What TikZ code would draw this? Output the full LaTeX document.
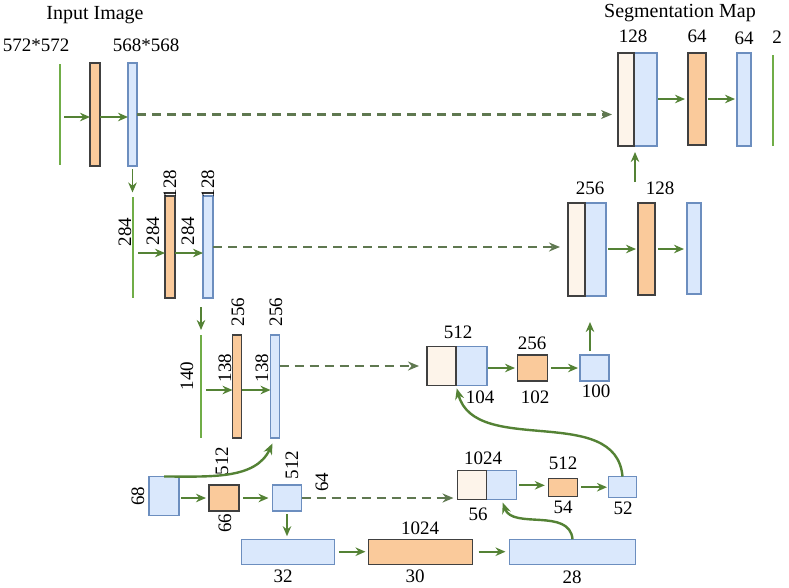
\documentclass[tikz,border=0pt]{standalone}
\usepackage{fontspec}
\setmainfont{Liberation Serif}
\usepackage{pgf,tikz}
\usetikzlibrary{arrows.meta}

\definecolor{lgreen}{RGB}{112,173,71}
\definecolor{dgreen}{RGB}{84,130,53}
\definecolor{sgreen}{RGB}{95,120,80}
\definecolor{ofill}{RGB}{250,202,155}
\definecolor{bfill}{RGB}{218,232,252}
\definecolor{bline}{RGB}{108,142,191}
\definecolor{cfill}{RGB}{253,244,234}
\definecolor{kline}{RGB}{64,64,64}

\tikzset{
  conv/.style={draw=kline, fill=ofill, line width=1.2pt, inner sep=0pt, outer sep=0pt},
  feat/.style={draw=bline, fill=bfill, line width=1.2pt, inner sep=0pt, outer sep=0pt},
  copyd/.style={draw=kline, fill=cfill, line width=1.2pt, inner sep=0pt, outer sep=0pt},
  inmap/.style={fill=lgreen, inner sep=0pt, outer sep=0pt, minimum width=2pt},
  lbl/.style={font=\fontsize{19}{22}\selectfont, inner sep=0pt},
  ttl/.style={font=\fontsize{20}{24}\selectfont, inner sep=0pt},
  flow/.style={dgreen, line width=1.8pt, -{Stealth[length=10pt,width=8.5pt]}},
  skipc/.style={sgreen, line width=2.6pt, dash pattern=on 9pt off 6pt, -{Stealth[length=11pt,width=9pt]}},
  curvearr/.style={dgreen, line width=2.4pt, -{Stealth[length=11pt,width=9pt]}},
}

\begin{document}
\begin{tikzpicture}[x=1pt,y=-1pt]
\useasboundingbox (0,0) rectangle (789,587);
  %----row 1----%
  \draw (60,114.5) node[inmap, minimum height=101pt] (in1) {}; %572
  \draw (95,114.5) node[conv, minimum width=10pt, minimum height=103pt] (c1a) {};
  \draw (132.5,114.5) node[feat, minimum width=9pt, minimum height=103pt] (c1b) {}; %568
  \draw (95,15) node[ttl] (tin) {Input Image};
  \draw (36,45) node[lbl] (s1) {572*572};
  \draw (146,45) node[lbl] (s2) {568*568};
  \draw[flow, shorten <=3pt] ([yshift=-2.5pt]in1.east) -- ([yshift=-2.5pt]c1a.west);
  \draw[flow] ([yshift=-2.5pt]c1a.east) -- ([yshift=-2.5pt]c1b.west);
  %----row 2----%
  \draw (133,247) node[inmap, minimum height=101pt] (in2) {};
  \draw (170,247) node[conv, minimum width=10pt, minimum height=102pt] (c2a) {};
  \draw (208,247) node[feat, minimum width=10pt, minimum height=102pt] (c2b) {};
  \draw (125,232) node[lbl, rotate=90] (n2i) {284};
  \draw (153,231) node[lbl, rotate=90] (n2a) {284};
  \draw (188,231) node[lbl, rotate=90] (n2b) {284};
  \draw (170,184) node[lbl, rotate=90] (d2a) {128};
  \draw (208,184) node[lbl, rotate=90] (d2b) {128};
  \draw[flow, shorten <=3pt, shorten >=4pt] (c1b.south) -- (c1b.south |- in2.north);
  \draw[flow, shorten <=4pt] ([yshift=-6pt]in2.east) -- ([yshift=-6pt]c2a.west);
  \draw[flow] ([yshift=-6pt]c2a.east) -- ([yshift=-6pt]c2b.west);
  %----row 3----%
  \draw (201,386.5) node[inmap, minimum height=103pt] (in3) {};
  \draw (237,386.5) node[conv, minimum width=9pt, minimum height=103pt] (c3a) {};
  \draw (275,386.5) node[feat, minimum width=9pt, minimum height=103pt] (c3b) {};
  \draw (187,376) node[lbl, rotate=90] (n3i) {140};
  \draw (225,368) node[lbl, rotate=90] (n3a) {138};
  \draw (262,368) node[lbl, rotate=90] (n3b) {138};
  \draw (238,312) node[lbl, rotate=90] (d3a) {256};
  \draw (276,312) node[lbl, rotate=90] (d3b) {256};
  \draw[flow, shorten <=9pt, shorten >=5pt] (in3.north |- c2b.south) -- (in3.north);
  \draw[flow, shorten <=4pt] ([yshift=-3.5pt]in3.east) -- ([yshift=-3.5pt]c3a.west);
  \draw[flow] ([yshift=-3.5pt]c3a.east) -- ([yshift=-3.5pt]c3b.west);
  %----row 4----%
  \draw (164,496) node[feat, minimum width=30pt, minimum height=39pt] (c4in) {};
  \draw (224,498) node[conv, minimum width=30pt, minimum height=26pt] (c4a) {};
  \draw (287,498) node[feat, minimum width=29pt, minimum height=26pt] (c4b) {};
  \draw (138,496) node[lbl, rotate=90] (n4i) {68};
  \draw (222,461) node[lbl, rotate=90] (d4a) {512};
  \draw (225,523) node[lbl, rotate=90] (n4a) {66};
  \draw (292,465) node[lbl, rotate=90] (d4b) {512};
  \draw (322,482) node[lbl, rotate=90] (n4b) {64};
  \draw[flow, shorten <=2pt, shorten >=3pt] (c4in.east |- c4a.west) -- (c4a.west);
  \draw[flow, shorten <=4pt, shorten >=4pt] (c4a.east) -- (c4b.west);
  \draw[curvearr, shorten >=6pt] (c4in.north) to[out=0,in=-115] (c3b.south);
  %----bottom----%
  \draw (288.3,551.7) node[feat, minimum width=93pt, minimum height=25pt] (c5in) {};
  \draw (420.5,551.7) node[conv, minimum width=104pt, minimum height=25pt] (c5a) {};
  \draw (572.5,551.7) node[feat, minimum width=126pt, minimum height=25pt] (c5b) {};
  \draw (283,576) node[lbl] (n5i) {32};
  \draw (420,528) node[lbl] (d5a) {1024};
  \draw (415,576) node[lbl] (n5a) {30};
  \draw (572,577) node[lbl] (n5b) {28};
  \draw[flow, shorten <=3pt, shorten >=3pt] (c4b.south) -- (c4b.south |- c5in.north);
  \draw[flow, shorten <=4pt, shorten >=3pt] (c5in.east) -- (c5a.west);
  \draw[flow, shorten <=6pt, shorten >=4pt] (c5a.east) -- (c5b.west);
  %----up 4----%
  \draw (501.7,485.3) node[feat, minimum width=30pt, minimum height=29pt] (cat4b) {};
  \draw (472,485.3) node[copyd, minimum width=29pt, minimum height=29pt] (cat4a) {};
  \draw (562.8,487.2) node[conv, minimum width=29pt, minimum height=18pt] (u4a) {};
  \draw (622.5,487) node[feat, minimum width=28pt, minimum height=21pt] (u4b) {};
  \draw (483,458) node[lbl] (d4c) {1024};
  \draw (478,514) node[lbl] (n4c) {56};
  \draw (563,463) node[lbl] (d4u) {512};
  \draw (563,507) node[lbl] (n4u) {54};
  \draw (623,508) node[lbl] (n4o) {52};
  \draw[skipc, shorten >=4pt] (c4b.east) -- (c4b.east -| cat4a.west);
  \draw[curvearr, shorten >=3pt] (c5b.north) to[out=95,in=-70] (cat4b.south);
  \draw[flow, shorten <=2.5pt, shorten >=3.5pt] (cat4b.east) -- (cat4b.east -| u4a.west);
  \draw[flow, shorten <=4pt, shorten >=1.5pt] (u4a.east) -- (u4a.east -| u4b.west);
  %----up 3----%
  \draw (471.5,366) node[feat, minimum width=31pt, minimum height=39pt] (cat3b) {};
  \draw (441.5,366) node[copyd, minimum width=29pt, minimum height=39pt] (cat3a) {};
  \draw (532.5,368) node[conv, minimum width=30pt, minimum height=26pt] (u3a) {};
  \draw (594.5,368) node[feat, minimum width=29pt, minimum height=26pt] (u3b) {};
  \draw (458,332) node[lbl] (d3c) {512};
  \draw (480,397) node[lbl] (n3c) {104};
  \draw (532,343) node[lbl] (d3u) {256};
  \draw (535,397) node[lbl] (n3u) {102};
  \draw (596,391) node[lbl] (n3o) {100};
  \draw[skipc, shorten >=8pt] (c3b.east |- cat3a.west) -- (cat3a.west);
  \draw[curvearr, shorten >=3pt] (u4b.north) to[out=95,in=-75] (cat3b.south west);
  \draw[flow, shorten <=1pt, shorten >=2.5pt] (cat3b.east |- u3a.west) -- (u3a.west);
  \draw[flow, shorten <=3.5pt, shorten >=2pt] (u3a.east) -- (u3b.west);
  \coordinate (up2) at (590,322);
  \draw[flow, shorten <=4pt] (up2 |- u3b.north) -- (up2);
  %----up 2----%
  \draw (595.5,249.5) node[feat, minimum width=21pt, minimum height=93pt] (cat2b) {};
  \draw (576.5,249.5) node[copyd, minimum width=17pt, minimum height=93pt] (cat2a) {};
  \draw (646.5,249) node[conv, minimum width=17pt, minimum height=92pt] (u2a) {};
  \draw (694,248.5) node[feat, minimum width=14pt, minimum height=91pt] (u2b) {};
  \draw (590,188) node[lbl] (d2c) {256};
  \draw (660,188) node[lbl] (d2u) {128};
  \draw[skipc, shorten >=8pt] (c2b.east) -- (c2b.east -| cat2a.west);
  \draw[flow, shorten <=2pt, shorten >=2pt] (cat2b.east |- u2a.west) -- (u2a.west);
  \draw[flow, shorten <=3pt, shorten >=3pt] (u2a.east) -- (u2a.east -| u2b.west);
  \coordinate (up1) at (635,182);
  %----up 1----%
  \draw (645.5,99.5) node[feat, minimum width=23pt, minimum height=93pt] (cat1b) {};
  \draw (626,99.5) node[copyd, minimum width=16pt, minimum height=93pt] (cat1a) {};
  \draw (697,99) node[conv, minimum width=18pt, minimum height=92pt] (u1a) {};
  \draw (744,99.5) node[feat, minimum width=14pt, minimum height=93pt] (u1b) {};
  \draw (773,100.5) node[inmap, minimum height=91pt] (out) {};
  \draw (680,13) node[ttl] (tout) {Segmentation Map};
  \draw (633,36) node[lbl] (d1c) {128};
  \draw (697,36) node[lbl] (d1u) {64};
  \draw (744,38) node[lbl] (d1o) {64};
  \draw (777,37) node[lbl] (d1m) {2};
  \draw[skipc, shorten >=6pt] (c1b.east) -- (c1b.east -| cat1a.west);
  \draw[flow, shorten >=6pt] (up1) -- (up1 |- cat1b.south);
  \draw[flow, shorten <=1pt, shorten >=3pt] (cat1b.east |- u1a.west) -- (u1a.west);
  \draw[flow, shorten <=2pt, shorten >=2pt] (u1a.east) -- (u1a.east -| u1b.west);
\end{tikzpicture}
\end{document}
